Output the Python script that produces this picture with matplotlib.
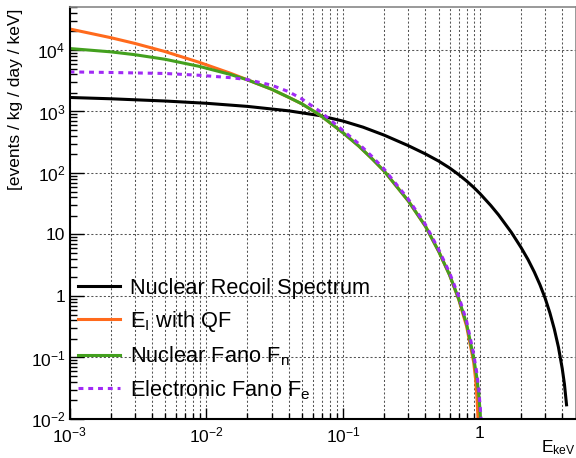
import numpy as np
import matplotlib
matplotlib.use("Agg")
import matplotlib.pyplot as plt
from matplotlib.ticker import LogLocator, FuncFormatter, NullFormatter

plt.rcParams['font.family'] = ['Liberation Sans', 'DejaVu Sans']
plt.rcParams['mathtext.fontset'] = 'custom'
plt.rcParams['mathtext.rm'] = 'Liberation Sans'
plt.rcParams['mathtext.it'] = 'Liberation Sans:italic'
plt.rcParams['mathtext.bf'] = 'Liberation Sans:bold'

# values (keV, events / kg / day / keV)
energy_nr = [0.001, 0.002, 0.005, 0.01, 0.02, 0.04, 0.067, 0.1, 0.14, 0.2, 0.3, 0.4, 0.5,
             0.6, 0.7, 0.8, 0.9, 1.0, 1.2, 1.37, 1.7, 2.0, 2.25, 2.5, 2.75, 3.0, 3.25,
             3.5, 3.75, 4.0, 4.15, 4.3]
rate_nr = [1690, 1610, 1480, 1360, 1210, 1025, 860, 698, 556, 412, 278, 204, 156,
           121, 94, 74, 58.5, 46.4, 29.7, 20.8, 10.8, 6.14, 3.9, 2.45, 1.52, 0.92, 0.53,
           0.29, 0.148, 0.066, 0.037, 0.017]

energy_qf = [0.001, 0.002, 0.003, 0.005, 0.0089, 0.015, 0.02, 0.03, 0.04, 0.05, 0.068, 0.1,
             0.13, 0.163, 0.2, 0.3, 0.4, 0.5, 0.6, 0.7, 0.8, 0.9, 0.93, 0.955, 0.97]
rate_qf = [22000, 15870, 12800, 9420, 6290, 4190, 3270, 2300, 1700, 1330, 870, 450,
           275, 170, 107, 35, 13.6, 5.3, 2.2, 0.88, 0.32, 0.085, 0.045, 0.02, 0.0095]

energy_fn = [0.001, 0.002, 0.003, 0.005, 0.0089, 0.015, 0.02, 0.03, 0.04, 0.05, 0.068, 0.1,
             0.13, 0.163, 0.2, 0.3, 0.4, 0.5, 0.6, 0.7, 0.8, 0.9, 0.95, 0.98, 1.0, 1.015]
rate_fn = [10570, 9330, 8390, 7060, 5410, 4000, 3270, 2300, 1700, 1330, 870, 450,
           275, 170, 107, 35, 13.6, 5.3, 2.2, 0.9, 0.35, 0.1, 0.047, 0.026, 0.0146, 0.0085]

energy_fe = [0.001, 0.002, 0.005, 0.0089, 0.015, 0.02, 0.03, 0.04, 0.05, 0.068, 0.1, 0.13,
             0.163, 0.2, 0.3, 0.4, 0.5, 0.6, 0.7, 0.8, 0.9, 0.95, 0.98, 1.0, 1.025]
rate_fe = [4400, 4310, 4150, 3880, 3550, 3300, 2680, 2100, 1600, 1000, 490, 300,
           185, 115, 37.5, 14.5, 5.7, 2.4, 0.99, 0.39, 0.115, 0.056, 0.031, 0.018, 0.009]

labels = ['Nuclear Recoil Spectrum', r'E$_{\mathrm{I}}$ with QF',
          r'Nuclear Fano F$_{\mathrm{n}}$', r'Electronic Fano F$_{\mathrm{e}}$']
colors = ['black', '#ff6a1c', '#43a01e', '#a02af5']

fig = plt.figure(figsize=(5.76, 4.58), dpi=100)
ax = fig.add_axes([69.5 / 576, 1 - 419 / 458, (575.5 - 69.5) / 576, (419 - 7) / 458])

lw = 2.2
ax.plot(energy_nr, rate_nr, color=colors[0], lw=lw, label=labels[0])
ax.plot(energy_qf, rate_qf, color=colors[1], lw=lw, label=labels[1])
ax.plot(energy_fn, rate_fn, color=colors[2], lw=lw, label=labels[2])
ax.plot(energy_fe, rate_fe, color=colors[3], lw=lw, ls=(0, (1.6, 1.6)), label=labels[3])

ax.set_xscale('log')
ax.set_yscale('log')
ax.set_xlim(1e-3, 5)
ax.set_ylim(1e-2, 5e4)


def root_fmt(v, pos):
    e = int(round(np.log10(v)))
    if e == 0:
        return '1'
    if e == 1:
        return '10'
    return r'$10^{%d}$' % e


ax.xaxis.set_major_locator(LogLocator(base=10, numticks=20))
ax.xaxis.set_minor_locator(LogLocator(base=10, subs=np.arange(2, 10), numticks=20))
ax.yaxis.set_major_locator(LogLocator(base=10, numticks=20))
ax.yaxis.set_minor_locator(LogLocator(base=10, subs=np.arange(2, 10), numticks=20))
ax.xaxis.set_major_formatter(FuncFormatter(root_fmt))
ax.yaxis.set_major_formatter(FuncFormatter(root_fmt))
ax.xaxis.set_minor_formatter(NullFormatter())
ax.yaxis.set_minor_formatter(NullFormatter())

ax.tick_params(axis='both', which='both', direction='in', top=False, right=False,
               labelsize=12.5, width=1)
ax.tick_params(axis='y', which='major', length=10, pad=3)
ax.tick_params(axis='y', which='minor', length=5)
ax.tick_params(axis='x', which='major', length=8, pad=5)
ax.tick_params(axis='x', which='minor', length=4)

ax.grid(which='major', axis='both', color='#555555', lw=0.75, ls=(0, (2, 2)))
ax.grid(which='minor', axis='x', color='#555555', lw=0.75, ls=(0, (2, 2)))

for side in ['left', 'bottom']:
    ax.spines[side].set_linewidth(1.5)
for side in ['top', 'right']:
    ax.spines[side].set_color('#888888')
    ax.spines[side].set_linewidth(1.2)

ax.set_ylabel('[events / kg / day / keV]', fontsize=12.5, loc='top')
ax.yaxis.set_label_coords(-0.092, 0.997)
ax.set_xlabel(r'E$_{\mathrm{keV}}$', fontsize=12.5, loc='right')
ax.xaxis.set_label_coords(1.0, -0.048)

ax.legend(loc='upper left', bbox_to_anchor=(0.0168, 0.343), frameon=False, fontsize=15.7,
          handlelength=1.93, handletextpad=0.46, labelspacing=0.47,
          borderpad=0, borderaxespad=0)

fig.savefig('out.png', dpi=100)
